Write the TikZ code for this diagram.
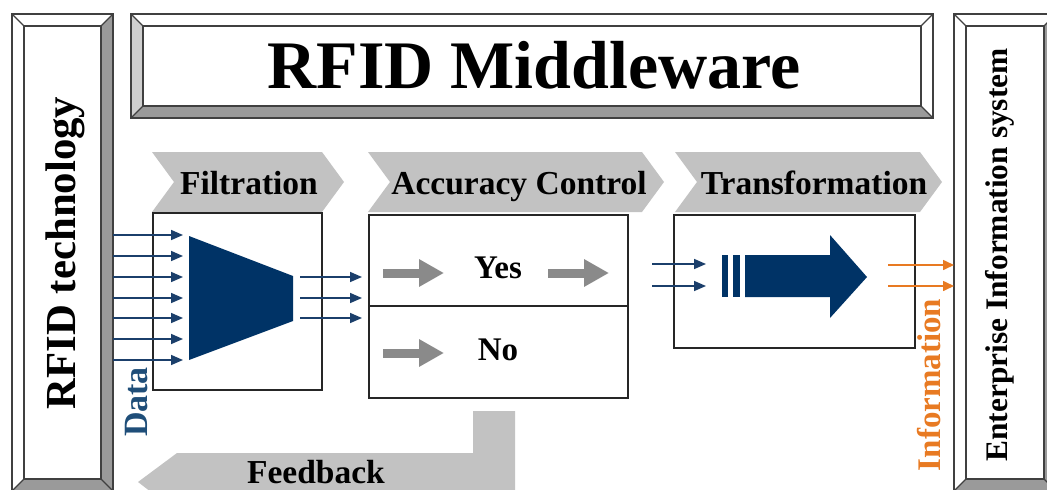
\documentclass[tikz,border=0pt]{standalone}
\usepackage{fontspec}
\setmainfont{Liberation Serif}
\usetikzlibrary{arrows.meta}
\definecolor{navy}{HTML}{003366}
\definecolor{navyline}{HTML}{1B3F6B}
\definecolor{chevgray}{HTML}{C2C2C2}
\definecolor{arrgray}{HTML}{8A8A8A}
\definecolor{bevdark}{HTML}{9A9A9A}
\definecolor{bevlight}{HTML}{CFCFCF}
\definecolor{infoorange}{HTML}{E87A22}
\definecolor{datablue}{HTML}{1F4E79}
\newcommand\fsz[1]{\fontsize{#1}{#1}\selectfont\bfseries}
\newcommand\bevelbox[9]{%
  \fill[#6] (#1,#2) -- (#3,#2) -- (#3-#5,#2+#5) -- (#1+#5,#2+#5) -- cycle;
  \fill[#7] (#1,#2) -- (#1+#5,#2+#5) -- (#1+#5,#4-#5) -- (#1,#4) -- cycle;
  \fill[#8] (#3,#2) -- (#3,#4) -- (#3-#5,#4-#5) -- (#3-#5,#2+#5) -- cycle;
  \fill[#9] (#1,#4) -- (#3,#4) -- (#3-#5,#4-#5) -- (#1+#5,#4-#5) -- cycle;
  \draw[bevline] (#1,#2) rectangle (#3,#4);
  \draw[bevline] (#1+#5,#2+#5) rectangle (#3-#5,#4-#5);
  \draw[bevline] (#1,#2) -- (#1+#5,#2+#5) (#3,#2) -- (#3-#5,#2+#5)
                 (#1,#4) -- (#1+#5,#4-#5) (#3,#4) -- (#3-#5,#4-#5);
}
\begin{document}
\begin{tikzpicture}[x=1pt,y=-1pt,
  bevline/.style={draw=black!75,line width=1.2pt},
  chev/.style={fill=chevgray},
  procbox/.style={draw=black!85,line width=1.3pt,fill=white,inner sep=0pt,outer sep=0pt,anchor=north west},
  lbl/.style={inner sep=0pt,anchor=base,font=\fsz{33.5}},
  navyarr/.style={draw=navyline,line width=1.6pt,-{Triangle[length=12pt,width=10pt]}},
  orangearr/.style={draw=infoorange,line width=1.6pt,-{Triangle[length=11pt,width=10pt]}},
  grayarr/.style={draw=arrgray,line width=9pt,-{Triangle[length=25pt,width=26pt]}},
  vlabel/.style={inner sep=0pt,anchor=base,rotate=90}]
\useasboundingbox (0,0) rectangle (1047,490);
\clip (0,0) rectangle (1047,490);

% beveled frames
\bevelbox{12}{14}{113}{491}{12}{white}{white}{bevdark}{bevdark}
\bevelbox{131}{14}{933}{118}{12}{white}{bevlight}{white}{bevdark}
\bevelbox{954}{14}{1056}{491}{12}{white}{white}{bevdark}{bevdark}
\node[vlabel,font=\fsz{42.8}] (tech) at (75,253) {RFID technology};
\node[inner sep=0pt,anchor=base,font=\fsz{68}] (title) at (534,88) {RFID Middleware};
\node[vlabel,font=\fsz{31.4}] (eis) at (1007,255) {Enterprise Information system};

% chevrons
\fill[chev] (152,152) -- (322,152) -- (344,182) -- (322,212) -- (152,212) -- (174,182) -- cycle;
\fill[chev] (368,152) -- (642,152) -- (664,182) -- (642,212) -- (368,212) -- (390,182) -- cycle;
\fill[chev] (675,152) -- (920,152) -- (942,182) -- (920,212) -- (675,212) -- (697,182) -- cycle;
\node[lbl] (lfilt) at (249,194) {Filtration};
\node[lbl] (lacc) at (519,194) {Accuracy Control};
\node[lbl] (ltrans) at (814,194) {Transformation};

% feedback arrow
\fill[chev] (473,411) -- (515,411) -- (515,512) -- (177,512) -- (138,482) -- (177,453) -- (473,453) -- cycle;
\node[lbl] (lfeed) at (316,483) {Feedback};

% boxes
\node[procbox,minimum width=169pt,minimum height=177pt] (filt) at (153,213) {};
\node[procbox,minimum width=259pt,minimum height=183pt] (acc) at (369,215) {};
\draw[draw=black!85,line width=1.3pt] (acc.west |- 0,306) coordinate (divl) -- (acc.east |- 0,306) coordinate (divr);
\node[procbox,minimum width=241pt,minimum height=133pt] (trans) at (674,215) {};

% filtration content
\fill[navy] (189,236) -- (293,276) -- (293,321) -- (189,360) -- cycle;
\foreach \i/\y in {1/235,2/256,3/277,4/298,5/318,6/339,7/360}{
  \coordinate (din\i) at (113,\y);
  \coordinate (dtip\i) at (183,\y);
  \draw[navyarr] (din\i) -- (dtip\i);
}
\foreach \i/\y in {1/277,2/298,3/318}{
  \coordinate (fo\i) at (300,\y);
  \coordinate (fot\i) at (362,\y);
  \draw[navyarr] (fo\i) -- (fot\i);
}
\node[vlabel,font=\fsz{34},text=datablue] (data) at (147,402) {Data};

% accuracy content
\coordinate (ya1) at (383,273); \coordinate (ya2) at (444,273);
\coordinate (yb1) at (548,273); \coordinate (yb2) at (609,273);
\coordinate (na1) at (383,353); \coordinate (na2) at (444,353);
\draw[grayarr] (ya1) -- (ya2);
\draw[grayarr] (yb1) -- (yb2);
\draw[grayarr] (na1) -- (na2);
\node[lbl,font=\fsz{33}] (yes) at (498,278) {Yes};
\node[lbl,font=\fsz{33}] (no) at (498,360) {No};

% transformation content
\foreach \i/\y in {1/264,2/286}{
  \coordinate (ti\i) at (652,\y);
  \coordinate (tit\i) at (706,\y);
  \draw[navyarr] (ti\i) -- (tit\i);
}
\fill[navy] (722,255) rectangle (728,297);
\fill[navy] (733,255) rectangle (740,297);
\fill[navy] (745,255) -- (830,255) -- (830,235) -- (867,277) -- (830,318) -- (830,297) -- (745,297) -- cycle;
\foreach \i/\y in {1/265,2/286}{
  \coordinate (oi\i) at (888,\y);
  \coordinate (oit\i) at (954,\y);
  \draw[orangearr] (oi\i) -- (oit\i);
}
\node[vlabel,font=\fsz{33},text=infoorange] (info) at (940,385) {Information};
\end{tikzpicture}
\end{document}
